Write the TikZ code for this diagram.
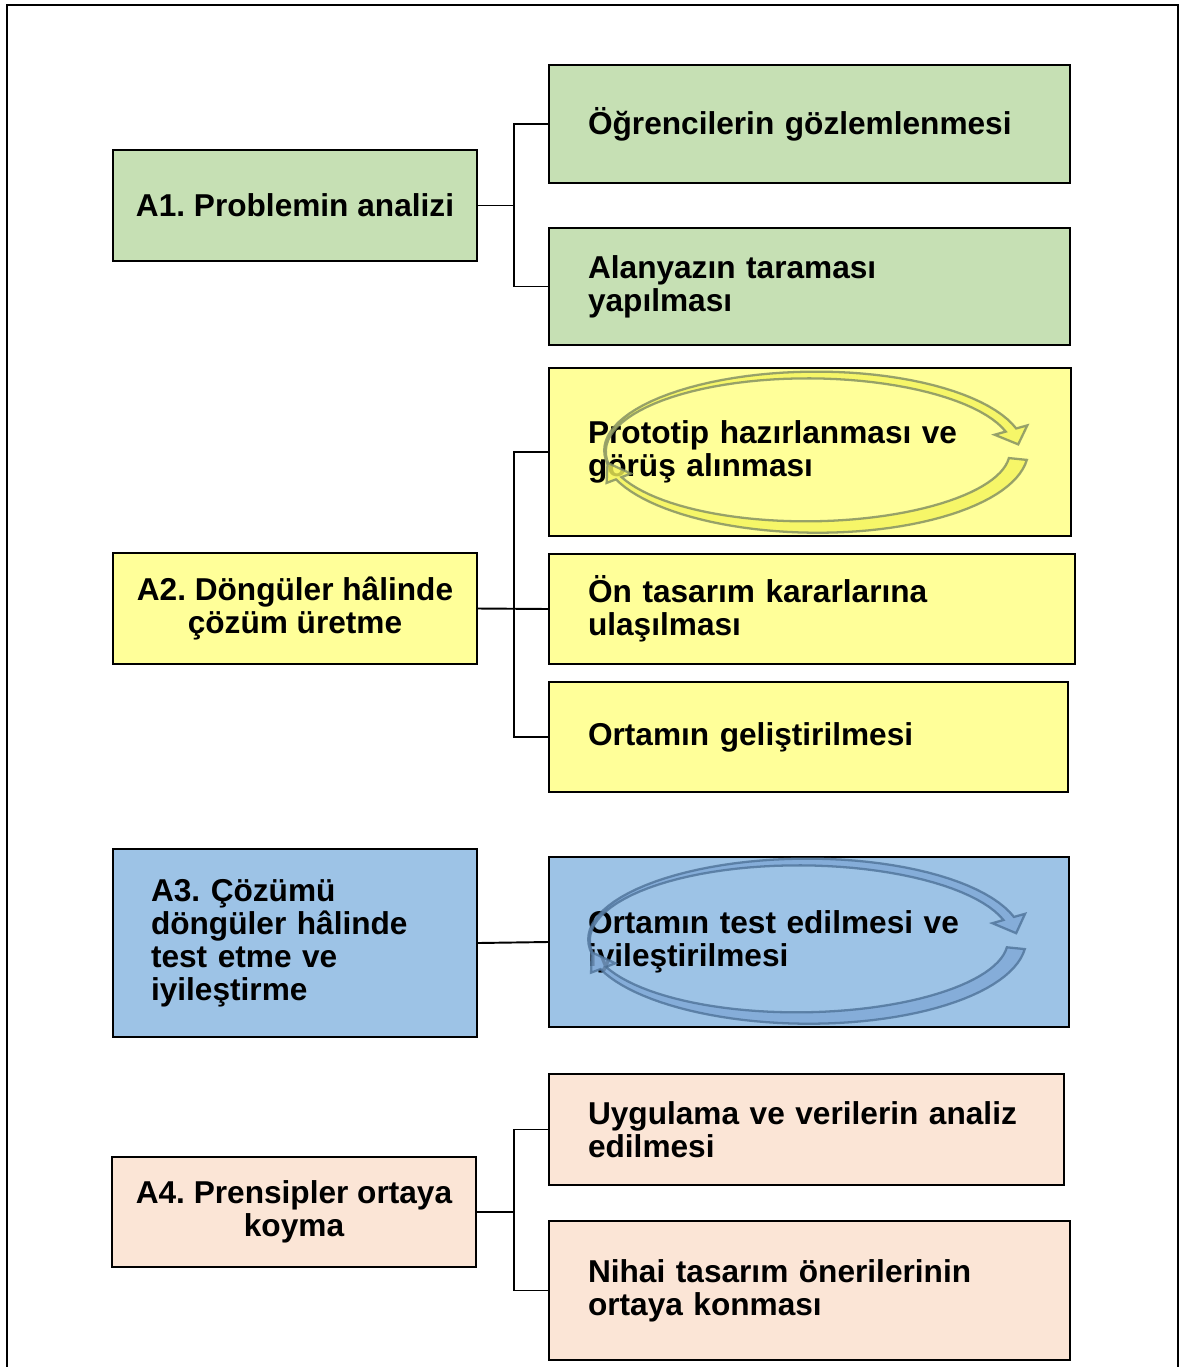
\documentclass[tikz,border=0pt]{standalone}
\usepackage{fontspec}
\setmainfont{Liberation Sans}
\frenchspacing
\definecolor{boxgreen}{HTML}{C6E0B4}
\definecolor{boxyellow}{HTML}{FFFF99}
\definecolor{boxblue}{HTML}{9DC3E6}
\definecolor{boxpeach}{HTML}{FBE5D6}
\definecolor{arryellow}{HTML}{F4F45C}
\definecolor{arrolive}{HTML}{7F8C62}
\definecolor{arrblue}{HTML}{7FA8D6}
\definecolor{arrnavy}{HTML}{4F7399}
% two tapered arrows running round an ellipse: cx, cy, rx, ry, fill, line
\newcommand\cyclearrows[6]{%
  \filldraw[fill=#5, draw=#6, line width=1.3pt, opacity=0.8]
    plot[domain=0:1, samples=50] ({#1+(#3+0.5+5*\x)*cos(190-174*\x)}, {#2-(#4+0.5+5*\x)*sin(190-174*\x)})
    -- ({#1+(#3+17)*cos(16)}, {#2-(#4+17)*sin(16)})
    -- ({#1+#3*cos(5)}, {#2-#4*sin(5)})
    -- ({#1+(#3-17)*cos(16)}, {#2-(#4-17)*sin(16)})
    -- plot[domain=0:1, samples=50] ({#1+(#3-5.5+5*\x)*cos(16+174*\x)}, {#2-(#4-5.5+5*\x)*sin(16+174*\x)})
    -- cycle;
  \filldraw[fill=#5, draw=#6, line width=1.3pt, opacity=0.8]
    plot[domain=0:1, samples=50] ({#1+(#3+9-6*\x)*cos(-6-153*\x)}, {#2-(#4+9-6*\x)*sin(-6-153*\x)})
    -- ({#1+(#3+13)*cos(-159)}, {#2-(#4+13)*sin(-159)})
    -- ({#1+#3*cos(-171)}, {#2-#4*sin(-171)})
    -- ({#1+(#3-13)*cos(-159)}, {#2-(#4-13)*sin(-159)})
    -- plot[domain=0:1, samples=50] ({#1+(#3-3-6*\x)*cos(-159+153*\x)}, {#2-(#4-3-6*\x)*sin(-159+153*\x)})
    -- cycle;
}
\begin{document}
\begin{tikzpicture}[x=0.02cm, y=-0.02cm,
    box/.style={draw, line width=1.4pt, inner sep=0pt,
      font=\fontsize{18}{18.7}\selectfont\bfseries},
    rbox/.style n args={3}{box, minimum width=#1cm, minimum height=#2cm,
      text width=#3cm, align=left},
    lbox/.style={box, minimum width=7.28cm, minimum height=2.22cm, align=center},
    link/.style={line width=1.1pt}]
\useasboundingbox (0,0) rectangle (1180,1367);
\draw[line width=1.2pt] (7,1367) -- (7,5) -- (1178,5) -- (1178,1367);
			\begin{scope}
				\node[lbox, fill=boxgreen] (a1) at (295,205.5) {A1. Problemin analizi};
				\node[rbox={10.42}{2.36}{8.86}, fill=boxgreen] (b1) at (809.5,124) {Öğrencilerin gözlemlenmesi};
				\node[rbox={10.42}{2.34}{8.86}, fill=boxgreen] (b2) at (809.5,286.5) {Alanyazın taraması\\yapılması};
				\node[lbox, fill=boxyellow] (a2) at (295,608.5) {A2. Döngüler hâlinde\\çözüm üretme};
				\node[rbox={10.44}{3.36}{8.88}, fill=boxyellow] (c1) at (810,452) {Prototip hazırlanması ve\\görüş alınması};
				\node[rbox={10.52}{2.2}{8.96}, fill=boxyellow] (c2) at (812,609) {Ön tasarım kararlarına\\ulaşılması};
				\node[rbox={10.38}{2.2}{8.82}, fill=boxyellow] (c3) at (808.5,737) {Ortamın geliştirilmesi};
				\node[rbox={7.28}{3.76}{5.76}, fill=boxblue] (a3) at (295,943) {A3. Çözümü\\döngüler hâlinde\\test etme ve\\iyileştirme};
				\node[rbox={10.4}{3.4}{8.84}, fill=boxblue] (d1) at (809,942) {Ortamın test edilmesi ve\\iyileştirilmesi};
				\node[lbox, minimum height=2.2cm, fill=boxpeach] (a4) at (294,1212) {A4. Prensipler ortaya\\koyma};
				\node[rbox={10.3}{2.22}{8.74}, fill=boxpeach] (e1) at (806.5,1129.5) {Uygulama ve verilerin analiz\\edilmesi};
				\node[rbox={10.42}{2.78}{8.86}, fill=boxpeach] (e2) at (809.5,1290.5) {Nihai tasarım önerilerinin\\ortaya konması};
			\end{scope}
			\begin{scope}[link]
				\draw (a1.east) -- ++(36,0) |- (b1.west);
				\draw (a1.east) -- ++(36,0) |- (b2.west);
				\draw (a2.east) -- ++(36,0) |- (c1.west);
				\draw (a2.east) -- (c2.west);
				\draw (a2.east) -- ++(36,0) |- (c3.west);
				\draw (a3.east) -- (d1.west);
				\draw (a4.east) -- ++(37,0) |- (e1.west);
				\draw (a4.east) -- ++(37,0) |- (e2.west);
			\end{scope}
\cyclearrows{812}{451}{207}{76}{arryellow}{arrolive}
\cyclearrows{803}{940}{214}{78}{arrblue}{arrnavy}
		\end{tikzpicture}
\end{document}
